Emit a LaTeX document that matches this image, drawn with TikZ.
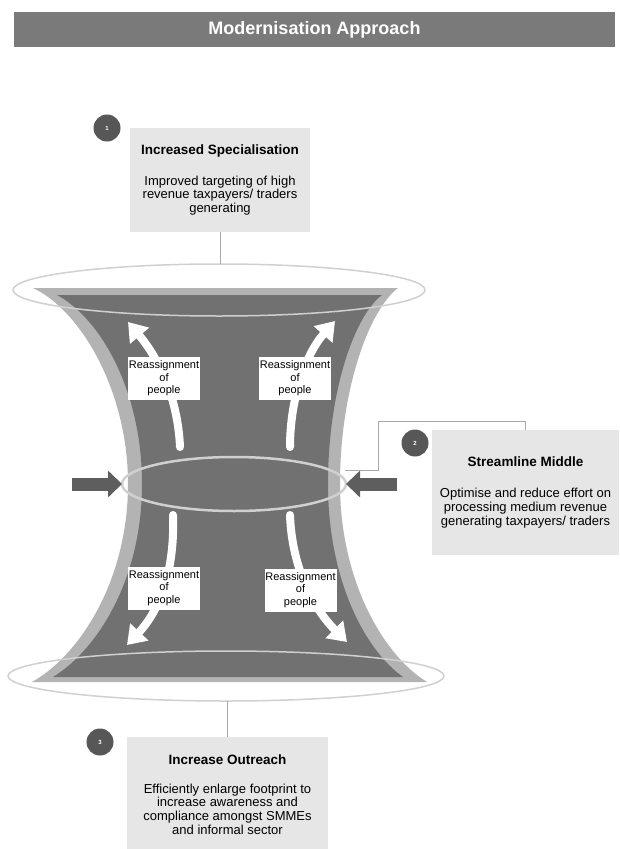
\documentclass[tikz,border=0pt]{standalone}
\usepackage{fontspec}
\setmainfont{Liberation Sans}
\usetikzlibrary{arrows.meta,shapes.geometric}

\definecolor{barGrey}{HTML}{7A7A7A}
\definecolor{boxGrey}{HTML}{E6E6E6}
\definecolor{dotGrey}{HTML}{575757}
\definecolor{bandGrey}{HTML}{B3B3B3}
\definecolor{coreGrey}{HTML}{717171}
\definecolor{ringGrey}{HTML}{D0D0D0}
\definecolor{pushGrey}{HTML}{5E5E5E}
\definecolor{linkGrey}{HTML}{A8A8A8}

\newcommand{\boxtitle}[1]{{\bfseries\fontsize{13.5}{14}\selectfont #1}}

\begin{document}
\begin{tikzpicture}[
  x=1pt, y=-1pt,
  infobox/.style={
    fill=boxGrey,
    align=center,
    inner sep=0pt,
    font=\fontsize{13}{13.8}\selectfont
  },
  dot/.style={circle, fill=dotGrey, minimum size=27pt, inner sep=0pt,
    text=white, font=\bfseries\fontsize{6}{6}\selectfont},
  movebox/.style={fill=white, minimum width=72pt, minimum height=43pt,
    inner sep=0pt, align=center, font=\fontsize{11}{12.5}\selectfont},
  ring/.style={ellipse, draw=ringGrey, inner sep=0pt, outer sep=0pt},
  link/.style={draw=linkGrey, line width=1pt},
  move/.style={white, line width=8pt, line cap=round,
    -{Triangle[width=24pt,length=18pt]}},
  push/.style={pushGrey, line width=13pt, -{Triangle[width=26pt,length=14pt]}}
]
\useasboundingbox (0,0) rectangle (619,849);

\node (header) [fill=barGrey, minimum width=601pt, minimum height=35pt, text=white,
  font=\bfseries\fontsize{18}{20}\selectfont] at (314.5,29.5) {Modernisation Approach};

% hourglass
\fill[bandGrey] (33,288) -- (398,288)
  .. controls (369,310) and (340,390) .. (340,484)
  .. controls (340,580) and (383,655) .. (427,682) -- (32,682)
  .. controls (80,655) and (128,580) .. (128,484)
  .. controls (128,390) and (80,310) .. (33,288) -- cycle;
\fill[coreGrey] (57,295) -- (382,295)
  .. controls (355,315) and (328,390) .. (328,484)
  .. controls (328,580) and (365,650) .. (403,677) -- (53,677)
  .. controls (97,650) and (142,580) .. (142,484)
  .. controls (142,390) and (100,318) .. (57,295) -- cycle;

% reassignment arrows
\coordinate (tlTail) at (180,447);
\coordinate (tlTip) at (128,322);
\coordinate (trTail) at (290,447);
\coordinate (trTip) at (335,321);
\coordinate (blTail) at (173,515);
\coordinate (blTip) at (127,645);
\coordinate (brTail) at (290,515);
\coordinate (brTip) at (347,642);
\draw[move] (tlTail) .. controls (178,400) and (160,360) .. (tlTip);
\draw[move] (trTail) .. controls (290,400) and (305,355) .. (trTip);
\draw[move] (blTail) .. controls (175,570) and (160,610) .. (blTip);
\draw[move] (brTail) .. controls (292,570) and (315,610) .. (brTip);

\node (moveTL) [movebox] at (164,378.5) {Reassignment\\of\\people};
\node (moveTR) [movebox] at (295,378.5) {Reassignment\\of\\people};
\node (moveBL) [movebox] at (164,588) {Reassignment\\of\\people};
\node (moveBR) [movebox] at (300.5,590) {Reassignment\\of\\people};

% rings
\node (topring) [ring, line width=1.5pt, minimum width=412pt, minimum height=52pt] at (219,290) {};
\node (midring) [ring, line width=2.5pt, minimum width=224pt, minimum height=54pt] at (234,484) {};
\node (botring) [ring, line width=1.5pt, minimum width=436pt, minimum height=50pt] at (226,676) {};

% squeeze arrows
\coordinate (pushL) at (72,484);
\coordinate (pushR) at (397,484);
\draw[push] (pushL) -- (midring.west);
\draw[push] (pushR) -- (midring.east);

% boxes
\node (special) [infobox, minimum width=180pt, minimum height=104pt] at (220,180)
  {\boxtitle{Increased Specialisation}\\[17pt]
   Improved targeting of high\\revenue taxpayers/ traders\\generating};
\node (streamline) [infobox, minimum width=187pt, minimum height=125pt] at (525.5,492.5)
  {\boxtitle{Streamline Middle}\\[17pt]
   Optimise and reduce effort on\\processing medium revenue\\generating taxpayers/ traders};
\node (outreach) [infobox, minimum width=201pt, minimum height=115pt] at (227.5,794.5)
  {\boxtitle{Increase Outreach}\\[15pt]
   Efficiently enlarge footprint to\\increase awareness and\\compliance amongst SMMEs\\and informal sector};

\coordinate (midtap) at (345,470);
\draw[link] (special.south) -- (special.south |- topring.north);
\draw[link] (outreach.north) -- (outreach.north |- botring.south);
\draw[link] (midtap) -- ++(33,0) |- ([yshift=8pt]streamline.north) -- (streamline.north);

\node (dot1) [dot] at (107,128) {1};
\node (dot2) [dot] at (415,443) {2};
\node (dot3) [dot] at (100,742) {3};
\end{tikzpicture}
\end{document}
